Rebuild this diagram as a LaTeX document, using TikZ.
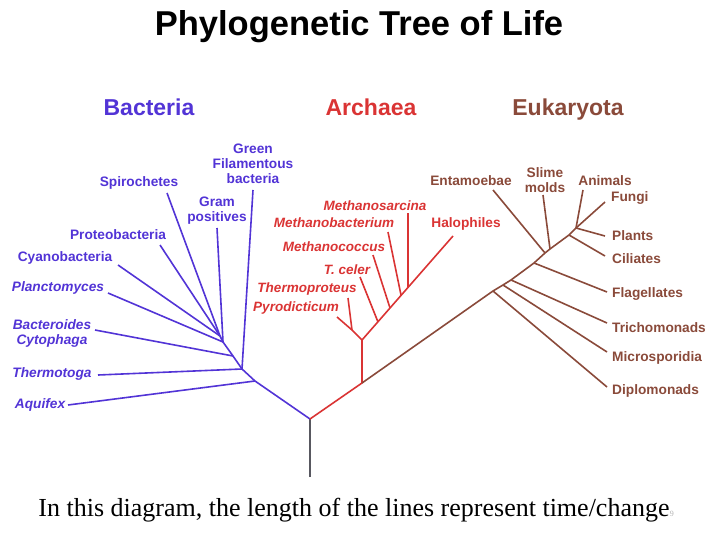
\documentclass[tikz,border=0pt]{standalone}
\usepackage{fontspec}
\setmainfont{Liberation Serif}
\newfontfamily\labelfont{Liberation Sans}
\usetikzlibrary{positioning}

\definecolor{bactblue}{RGB}{82,52,214}
\definecolor{archred}{RGB}{218,52,52}
\definecolor{eukbrown}{RGB}{138,74,58}
\definecolor{rootgray}{RGB}{88,88,96}

\begin{document}
\begin{tikzpicture}[
    x=1pt, y=-1pt,
    lbl/.style={font=\labelfont\bfseries\fontsize{13.7}{15}\selectfont, inner sep=0pt, align=center},
    bactlbl/.style={lbl, text=bactblue},
    archlbl/.style={lbl, text=archred, font=\labelfont\bfseries\itshape\fontsize{13.5}{15}\selectfont},
    euklbl/.style={lbl, text=eukbrown},
    head/.style={inner sep=0pt, anchor=base, font=\labelfont\bfseries\fontsize{23}{26}\selectfont},
    bactline/.style={draw=bactblue, line width=1.6pt, line join=round},
    archline/.style={draw=archred, line width=1.6pt, line join=round},
    eukline/.style={draw=eukbrown, line width=1.6pt, line join=round}
]
    \useasboundingbox (0,0) rectangle (720,540);

    % Title and domain headings
    \node[inner sep=0pt, anchor=base, font=\labelfont\bfseries\fontsize{34.5}{38}\selectfont] (title) at (359,36) {Phylogenetic Tree of Life};
    \node[head, text=bactblue] (hbact) at (149,116) {Bacteria};
    \node[head, text=archred] (harch) at (371,116) {Archaea};
    \node[head, text=eukbrown] (heuk) at (568,116) {Eukaryota};

    % Junctions
    \coordinate (root) at (310,419);
    \coordinate (base) at (310,477);
    \coordinate (b0) at (255,381);
    \coordinate (b1) at (242,369);
    \coordinate (b2) at (233,356);
    \coordinate (b3) at (223,342);
    \coordinate (b4) at (220,336);
    \coordinate (a0) at (362,383);
    \coordinate (a1) at (362,340);
    \coordinate (a2) at (352,330);
    \coordinate (a3) at (378,322);
    \coordinate (a4) at (390,308);
    \coordinate (a5) at (401,295);
    \coordinate (a6) at (408,287);
    \coordinate (e1) at (493,291);
    \coordinate (e2) at (503,285);
    \coordinate (e3) at (511,280);
    \coordinate (e4) at (534,263);
    \coordinate (e5) at (545,253);
    \coordinate (e6) at (550,249);
    \coordinate (e7) at (569,235);
    \coordinate (e8) at (576,228);

    % Leaf tips
    \coordinate (tAqui) at (68,405);
    \coordinate (tTherm) at (98,375);
    \coordinate (tGreen) at (253,190);
    \coordinate (tBact) at (95,330);
    \coordinate (tPlanc) at (108,293);
    \coordinate (tCyano) at (118,265);
    \coordinate (tProt) at (160,245);
    \coordinate (tSpiro) at (167,193);
    \coordinate (tGram) at (217,228);
    \coordinate (tPyro) at (337,317);
    \coordinate (tTprot) at (348,298);
    \coordinate (tCeler) at (360,277);
    \coordinate (tMcoc) at (373,255);
    \coordinate (tMbac) at (388,232);
    \coordinate (tMsar) at (408,213);
    \coordinate (tHalo) at (453,236);
    \coordinate (tDiplo) at (607,387);
    \coordinate (tMicro) at (607,352);
    \coordinate (tTrich) at (607,323);
    \coordinate (tFlag) at (607,292);
    \coordinate (tEnta) at (493,190);
    \coordinate (tSlime) at (543,195);
    \coordinate (tCili) at (605,256);
    \coordinate (tPlant) at (605,236);
    \coordinate (tAnim) at (583,190);
    \coordinate (tFungi) at (605,202);

    % Trunk
    \draw[draw=rootgray, line width=1.6pt] (base) -- (root);

    % Bacteria branches
    \draw[bactline] (root) -- (b0) -- (b1) -- (b2) -- (b3) -- (b4);
    \draw[bactline] (b0) -- (tAqui);
    \draw[bactline] (b1) -- (tTherm);
    \draw[bactline] (b1) -- (tGreen);
    \draw[bactline] (b2) -- (tBact);
    \draw[bactline] (b3) -- (tPlanc);
    \draw[bactline] (b3) -- (tGram);
    \draw[bactline] (b4) -- (tCyano);
    \draw[bactline] (b4) -- (tProt);
    \draw[bactline] (b4) -- (tSpiro);

    % Archaea branches
    \draw[archline] (root) -- (a0) -- (a1) -- (a2) -- (tPyro);
    \draw[archline] (a2) -- (tTprot);
    \draw[archline] (a1) -- (tHalo);
    \draw[archline] (a3) -- (tCeler);
    \draw[archline] (a4) -- (tMcoc);
    \draw[archline] (a5) -- (tMbac);
    \draw[archline] (a6) -- (tMsar);

    % Eukaryota branches
    \draw[eukline] (a0) -- (e1) -- (e2) -- (e3) -- (e4) -- (e5) -- (e6) -- (e7) -- (e8);
    \draw[eukline] (e1) -- (tDiplo);
    \draw[eukline] (e2) -- (tMicro);
    \draw[eukline] (e3) -- (tTrich);
    \draw[eukline] (e4) -- (tFlag);
    \draw[eukline] (e5) -- (tEnta);
    \draw[eukline] (e6) -- (tSlime);
    \draw[eukline] (e7) -- (tCili);
    \draw[eukline] (e8) -- (tPlant);
    \draw[eukline] (e8) -- (tAnim);
    \draw[eukline] (e8) -- (tFungi);

    % Bacteria labels
    \node[bactlbl] (green) at (253,164) {Green\\Filamentous\\bacteria};
    \node[bactlbl] (spiro) at (139,183) {Spirochetes};
    \node[bactlbl] (gram) at (217,211) {Gram\\positives};
    \node[bactlbl] (prot) at (118,235) {Proteobacteria};
    \node[bactlbl] (cyano) at (65,258) {Cyanobacteria};
    \node[bactlbl, font=\labelfont\bfseries\itshape\fontsize{13.7}{15}\selectfont] (planc) at (58,288) {Planctomyces};
    \node[bactlbl, font=\labelfont\bfseries\itshape\fontsize{13.7}{15}\selectfont] (bacter) at (52,333) {Bacteroides\\Cytophaga};
    \node[bactlbl, font=\labelfont\bfseries\itshape\fontsize{13.7}{15}\selectfont] (therm) at (52,374) {Thermotoga};
    \node[bactlbl, font=\labelfont\bfseries\itshape\fontsize{13.7}{15}\selectfont] (aqui) at (40,405) {Aquifex};

    % Archaea labels
    \node[archlbl] (msar) at (375,206) {Methanosarcina};
    \node[archlbl] (mbac) at (334,223) {Methanobacterium};
    \node[archlbl] (mcoc) at (334,247) {Methanococcus};
    \node[archlbl] (celer) at (347,270) {T. celer};
    \node[archlbl] (tprot) at (307,289) {Thermoproteus};
    \node[archlbl] (pyro) at (296,308) {Pyrodicticum};
    \node[lbl, text=archred] (halo) at (466,224) {Halophiles};

    % Eukaryota labels
    \node[euklbl] (enta) at (471,181) {Entamoebae};
    \node[euklbl] (slime) at (545,180) {Slime\\molds};
    \node[euklbl] (anim) at (605,181) {Animals};
    \node[euklbl, anchor=west] (fungi) at (611,198) {Fungi};
    \node[euklbl, anchor=west] (plant) at (612,236) {Plants};
    \node[euklbl, anchor=west] (cili) at (612,259) {Ciliates};
    \node[euklbl, anchor=west] (flag) at (612,294) {Flagellates};
    \node[euklbl, anchor=west] (trich) at (612,328) {Trichomonads};
    \node[euklbl, anchor=west] (micro) at (612,358) {Microsporidia};
    \node[euklbl, anchor=west] (diplo) at (612,391) {Diplomonads};

    % Caption
    \node[inner sep=0pt, anchor=base, font=\fontsize{26}{29}\selectfont] (caption) at (354,516) {In this diagram, the length of the lines represent time/change};
    \node[inner sep=0pt, anchor=base west, text=gray!60, font=\fontsize{8}{9}\selectfont] (pagenum) at (caption.base east) {9};
\end{tikzpicture}
\end{document}
